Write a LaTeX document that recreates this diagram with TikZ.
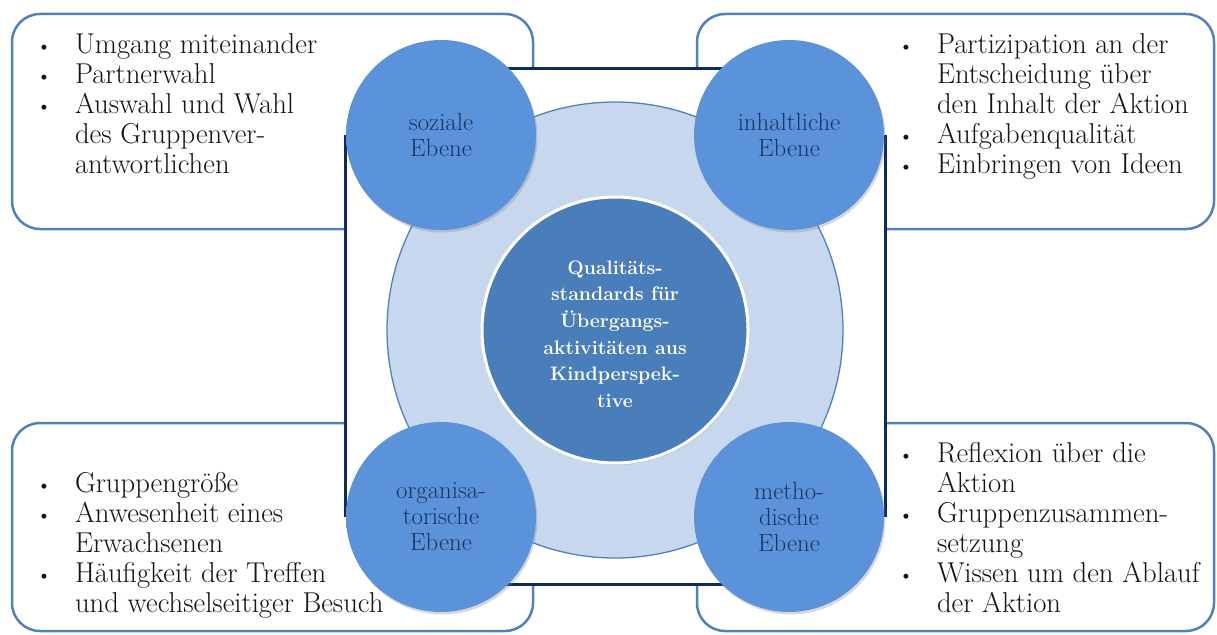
\documentclass[tikz,border=0pt]{standalone}
\usetikzlibrary{shadows}

\definecolor{boxblue}{HTML}{4F81BD}
\definecolor{navy}{HTML}{0E2A63}
\definecolor{ringfill}{HTML}{C7D7EE}
\definecolor{ringline}{HTML}{4F81BD}
\definecolor{hubfill}{HTML}{4A7EBB}
\definecolor{levelfill}{HTML}{5A93DA}
\definecolor{levelrim}{HTML}{4C84CB}
\definecolor{leveltext}{HTML}{1B3461}
\definecolor{listtext}{HTML}{141414}

\pgfdeclareradialshading{levelball}{\pgfpoint{0bp}{0bp}}{%
  color(0bp)=(levelfill); color(43bp)=(levelfill);
  color(48bp)=(levelrim); color(50bp)=(levelrim)}

% bullet cell for the corner lists
\newcommand{\itm}{\makebox[39pt][l]{\fontsize{22pt}{22pt}\selectfont\textbullet}}

\tikzset{
  cornerbox/.style={draw=boxblue, line width=2.5pt, rounded corners=28pt,
    fill=white, inner sep=0pt, outer sep=0pt},
  listblock/.style={anchor=base west, inner sep=0pt, outer sep=0pt,
    text=listtext, font=\fontsize{28.7pt}{30pt}\selectfont},
  frameline/.style={draw=navy, line width=3pt},
  level/.style={circle, minimum size=190pt, inner sep=0pt, shading=levelball,
    drop shadow={shadow xshift=1.5pt, shadow yshift=-2.5pt, opacity=0.3},
    align=center, text=leveltext, font=\fontsize{24.8pt}{26pt}\selectfont},
}

\begin{document}
\begin{tikzpicture}[x=1pt, y=-1pt]
\useasboundingbox (0,0) rectangle (1217,634);

% corner boxes
\node[cornerbox, minimum width=521pt, minimum height=215pt] (boxTL) at (272.5,121.5) {};
\node[cornerbox, minimum width=517pt, minimum height=215pt] (boxTR) at (955.5,121.5) {};
\node[cornerbox, minimum width=521pt, minimum height=208pt] (boxBL) at (272.5,527) {};
\node[cornerbox, minimum width=517pt, minimum height=208pt] (boxBR) at (955.5,527) {};

% central white square
\coordinate (sqNW) at (345.5,68);
\coordinate (sqSE) at (885.5,584);
\fill[white] (sqNW) rectangle (sqSE);

% centres of the four level circles
\coordinate (cSoz) at (441,135);
\coordinate (cInh) at (789,135);
\coordinate (cOrg) at (441,517);
\coordinate (cMet) at (789,517);

% navy frame joining the level circles
\draw[frameline] (cSoz |- sqNW) -- (cInh |- sqNW);
\draw[frameline] (cOrg |- sqSE) -- (cMet |- sqSE);
\draw[frameline] (cSoz -| sqNW) -- (cOrg -| sqNW);
\draw[frameline] (cInh -| sqSE) -- (cMet -| sqSE);

% ring and hub
\node[circle, minimum size=456pt, inner sep=0pt, fill=ringfill, draw=ringline,
  line width=1.3pt] (ring) at (615,330) {};
\node[circle, minimum size=266pt, inner sep=0pt, fill=hubfill, draw=white,
  line width=3pt, drop shadow={shadow xshift=1pt, shadow yshift=-2pt, opacity=0.25}]
  (hub) at (615,330) {};
\node[align=center, text=white, font=\bfseries\fontsize{19.5pt}{26.6pt}\selectfont]
  (hubText) at (615,334) {Qualitäts-\\standards für\\Übergangs-\\aktivitäten aus\\Kindperspek-\\tive};

% level circles
\node[level] (soz) at (cSoz) {soziale\\Ebene};
\node[level] (inh) at (cInh) {inhaltliche\\Ebene};
\node[level] (org) at (cOrg) {organisa-\\torische\\Ebene};
\node[level] (met) at (cMet) {metho-\\dische\\Ebene};

% lists
\node[listblock] (listTL) at (36,53) {\begin{tabular}[t]{@{}l@{}l@{}}
\itm & Umgang miteinander\\
\itm & Partnerwahl\\
\itm & Auswahl und Wahl\\
     & des Gruppenver-\\
     & antwortlichen
\end{tabular}};

\node[listblock] (listTR) at (898,53) {\begin{tabular}[t]{@{}l@{}l@{}}
\itm & Partizipation an der\\
     & Entscheidung über\\
     & den Inhalt der Aktion\\
\itm & Aufgabenqualität\\
\itm & Einbringen von Ideen
\end{tabular}};

\node[listblock] (listBL) at (36,492) {\begin{tabular}[t]{@{}l@{}l@{}}
\itm & Gruppengröße\\
\itm & Anwesenheit eines\\
     & Erwachsenen\\
\itm & Häufigkeit der Treffen\\
     & und wechselseitiger Besuch
\end{tabular}};

\node[listblock] (listBR) at (898,462) {\begin{tabular}[t]{@{}l@{}l@{}}
\itm & Reflexion über die\\
     & Aktion\\
\itm & Gruppenzusammen-\\
     & setzung\\
\itm & Wissen um den Ablauf\\
     & der Aktion
\end{tabular}};
\end{tikzpicture}
\end{document}
